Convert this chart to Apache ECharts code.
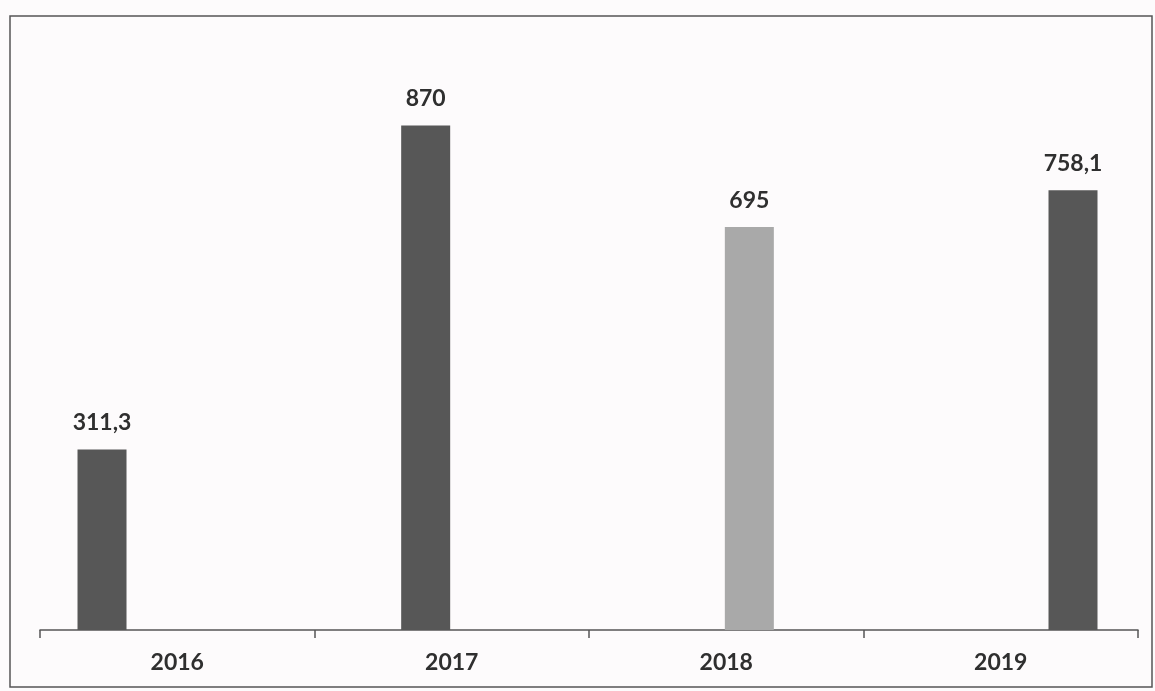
<!DOCTYPE html>
<html>
<head>
<meta charset="utf-8">
<script src="https://cdn.jsdelivr.net/npm/echarts@6/dist/echarts.min.js"></script>
<style>
html,body{margin:0;padding:0;background:#fdfbfc;}
#chart{width:1155px;height:691px;}
</style>
</head>
<body>
<div id="chart"></div>
<script>
var categories = ['2016', '2017', '2018', '2019'];
var values = [311.3, 870, 695, 758.1];
var barColors = ['#575757', '#575757', '#a9a9a9', '#575757'];

var chart = echarts.init(document.getElementById('chart'));
var option = {
  backgroundColor: '#fdfbfc',
  animation: false,
  grid: { left: 40, right: 17, top: 50, bottom: 61 },
  xAxis: [
    {
      type: 'category',
      data: categories,
      boundaryGap: true,
      axisLine: { show: true, lineStyle: { color: '#555', width: 1.5 } },
      axisTick: { show: true, length: 8, alignWithLabel: false, lineStyle: { color: '#555', width: 1.5 } },
      axisLabel: { margin: 21, color: '#2f2f2f', fontSize: 23, fontWeight: 'bold', fontFamily: 'Lato, "Open Sans", sans-serif' },
      splitLine: { show: false }
    },
    {
      type: 'value',
      show: false,
      min: -0.1916,
      max: 3.2008,
      splitLine: { show: false }
    }
  ],
  yAxis: {
    type: 'value',
    min: 0,
    max: 1000,
    show: false,
    splitLine: { show: false }
  },
  graphic: [
    {
      type: 'rect',
      shape: { x: 10, y: 16, width: 1142, height: 671 },
      style: { fill: 'none', stroke: '#555', lineWidth: 1.5 },
      silent: true
    }
  ],
  series: [
    {
      type: 'bar',
      xAxisIndex: 1,
      barWidth: 49,
      data: categories.map(function (c, i) {
        return { value: [i, values[i]], itemStyle: { color: barColors[i] } };
      }),
      label: {
        show: true,
        position: 'top',
        distance: 15,
        color: '#2f2f2f',
        fontSize: 23,
        fontWeight: 'bold',
        fontFamily: 'Lato, "Open Sans", sans-serif',
        formatter: function (p) { return String(p.value[1]).replace('.', ','); }
      }
    }
  ]
};
chart.setOption(option);
</script>
</body>
</html>
